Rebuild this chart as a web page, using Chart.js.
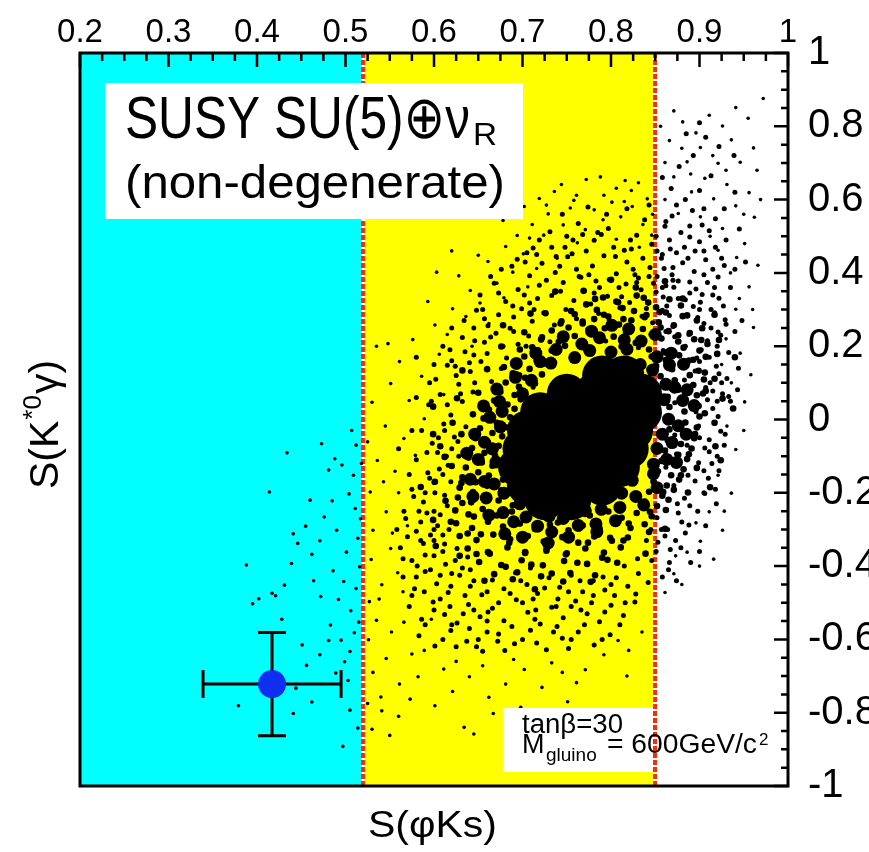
<!DOCTYPE html>
<html>
<head>
<meta charset="utf-8">
<script src="https://cdn.jsdelivr.net/npm/chart.js@4.4.1/dist/chart.umd.min.js"></script>
<style>
  html, body { margin: 0; padding: 0; background: #fff; }
  canvas { display: block; }
</style>
</head>
<body>
<canvas id="chart" width="869" height="852"></canvas>
<script>
// axis ticks
const xTicks = [0.2, 0.3, 0.4, 0.5, 0.6, 0.7, 0.8, 0.9, 1];
const yTicks = [-1, -0.8, -0.6, -0.4, -0.2, 0, 0.2, 0.4, 0.6, 0.8, 1];

// coloured bands along S(phiKs) and the two dotted cuts
const bandEdges = [0.2, 0.52, 0.85, 1];
const bandColours = ['#00ffff', '#ffff00', '#ffffff'];
const cutLines = [0.52, 0.85];

// measured value with errors
const measX = [0.417];
const measY = [-0.722];
const measErrX = [0.078];
const measErrY = [0.141];

// scan points, from the saturated centre outwards
const corePoints = [
  [0.79,0.12],[0.815,0.12],
  [0.75,0.07],[0.78,0.07],[0.81,0.07],[0.835,0.07],
  [0.72,0.02],[0.75,0.02],[0.78,0.02],[0.81,0.02],[0.835,0.02],
  [0.705,-0.03],[0.735,-0.03],[0.765,-0.03],[0.795,-0.03],[0.825,-0.03],
  [0.7,-0.08],[0.73,-0.08],[0.76,-0.08],[0.79,-0.08],[0.82,-0.08],
  [0.695,-0.13],[0.725,-0.13],[0.755,-0.13],[0.785,-0.13],[0.81,-0.13],
  [0.705,-0.18],[0.735,-0.18],[0.765,-0.18],[0.79,-0.18],
  [0.725,-0.22],[0.755,-0.22]
];

const ringPoints = [
  [0.858,-0.04],[0.865,0.001],[0.86,0.054],[0.862,0.096],[0.847,0.135],[0.833,0.15],[0.818,0.192],[0.8,0.184],
  [0.776,0.188],[0.759,0.169],[0.732,0.154],[0.71,0.107],[0.7,0.07],[0.677,0.022],[0.675,-0.02],[0.666,-0.08],
  [0.67,-0.116],[0.668,-0.176],[0.679,-0.201],[0.697,-0.23],[0.704,-0.266],[0.73,-0.264],[0.746,-0.27],
  [0.771,-0.249],[0.789,-0.245],[0.812,-0.201],[0.824,-0.166],[0.848,-0.122],[0.852,-0.079],
  [0.876,-0.017],[0.881,0.052],[0.872,0.088],[0.866,0.149],[0.852,0.171],[0.834,0.214],[0.815,0.217],
  [0.787,0.223],[0.767,0.206],[0.738,0.191],[0.72,0.158],[0.692,0.115],[0.674,0.049],[0.663,0.006],
  [0.657,-0.062],[0.65,-0.109],[0.657,-0.169],[0.659,-0.214],[0.678,-0.254],[0.69,-0.279],[0.717,-0.291],
  [0.733,-0.307],[0.763,-0.289],[0.783,-0.285],[0.81,-0.24],[0.828,-0.21],[0.848,-0.148],[0.863,-0.109],
  [0.869,-0.063],
  [0.885,-0.04],[0.894,0.038],[0.886,0.081],[0.882,0.151],[0.868,0.181],[0.85,0.232],[0.82,0.247],[0.801,0.257],
  [0.778,0.241],[0.746,0.226],[0.715,0.181],[0.693,0.153],[0.671,0.083],[0.656,0.037],[0.646,-0.04],
  [0.637,-0.092],[0.641,-0.163],[0.644,-0.21],[0.662,-0.261],[0.68,-0.312],[0.7,-0.321],[0.729,-0.337],
  [0.752,-0.321],[0.784,-0.306],[0.805,-0.276],[0.837,-0.233],[0.852,-0.186],[0.874,-0.117]
];

const fringePoints = [
  [0.895,-0.04],[0.906,0.017],[0.904,0.071],[0.906,0.128],[0.888,0.161],[0.876,0.23],[0.856,0.251],[0.84,0.285],
  [0.814,0.274],[0.792,0.286],[0.768,0.267],[0.743,0.262],[0.721,0.218],[0.697,0.191],[0.679,0.143],[0.65,0.073],
  [0.644,0.014],[0.631,-0.04],[0.62,-0.127],[0.631,-0.173],[0.632,-0.228],[0.645,-0.265],[0.653,-0.313],
  [0.685,-0.336],[0.703,-0.362],[0.727,-0.358],[0.75,-0.365],[0.774,-0.336],[0.799,-0.323],[0.82,-0.284],
  [0.844,-0.252],[0.859,-0.198],[0.879,-0.152],[0.888,-0.095],
  [0.917,-0.009],[0.926,0.057],[0.917,0.111],[0.92,0.179],[0.902,0.217],[0.881,0.282],[0.855,0.293],[0.837,0.332],
  [0.808,0.32],[0.782,0.329],[0.755,0.296],[0.726,0.29],[0.702,0.238],[0.676,0.199],[0.66,0.137],[0.626,0.058],
  [0.621,-0.009],[0.607,-0.073],[0.612,-0.102],[0.601,-0.17],[0.613,-0.222],[0.619,-0.279],[0.638,-0.311],
  [0.648,-0.367],[0.663,-0.366],[0.681,-0.402],[0.71,-0.396],[0.733,-0.42],[0.762,-0.391],[0.79,-0.377],
  [0.814,-0.33],[0.843,-0.307],[0.862,-0.247],[0.887,-0.199],[0.897,-0.132],[0.918,-0.073],
  [0.938,0.03],[0.94,0.17],[0.922,0.217],[0.917,0.286],[0.881,0.33],[0.861,0.377],[0.828,0.36],[0.8,0.381],
  [0.769,0.351],[0.737,0.349],[0.709,0.289],[0.678,0.257],[0.632,0.134],[0.599,0.035],[0.599,-0.04],
  [0.585,-0.184],[0.599,-0.274],[0.602,-0.345],[0.629,-0.372],[0.657,-0.44],[0.689,-0.436],[0.714,-0.463],
  [0.746,-0.442],[0.777,-0.443],[0.807,-0.391],[0.839,-0.366],[0.861,-0.298],[0.912,-0.185],[0.924,-0.111],
  [0.791,0.333],[0.806,0.322],[0.829,0.338],[0.842,0.319],[0.866,0.328],[0.772,0.314],[0.784,0.299],[0.813,0.304],
  [0.826,0.296],[0.851,0.306],[0.879,0.311],[0.759,0.287],[0.797,0.281],[0.838,0.279],[0.862,0.292],[0.886,0.284],
  [0.744,0.268],[0.768,0.262],[0.781,0.274],[0.809,0.259],[0.823,0.271],[0.854,0.265],[0.871,0.257],[0.897,0.27],
  [0.733,0.243],[0.752,0.251],[0.776,0.238],[0.793,0.249],[0.817,0.236],[0.836,0.247],[0.846,0.232],[0.865,0.241],
  [0.889,0.236],[0.903,0.249],[0.722,0.224],[0.741,0.212],[0.759,0.228],[0.788,0.217],[0.803,0.226],[0.828,0.209],
  [0.857,0.221],[0.876,0.213],[0.894,0.219],[0.909,0.206],[0.711,0.197],[0.733,0.188],[0.748,0.201],[0.772,0.192],
  [0.797,0.184],[0.812,0.199],[0.843,0.191],[0.861,0.183],[0.882,0.196],[0.9,0.188],
  [0.702,0.172],[0.716,0.161],[0.694,0.149],[0.708,0.138],[0.727,0.152],[0.689,0.126],[0.703,0.114],[0.722,0.123],
  [0.681,0.101],[0.696,0.089],[0.714,0.098],[0.675,0.076],[0.691,0.067],[0.668,0.052],[0.683,0.041],[0.698,0.055],
  [0.662,0.027],[0.677,0.016],[0.691,0.029],[0.656,0.003],[0.671,-0.009],[0.686,0.006],[0.652,-0.024],[0.666,-0.037],
  [0.681,-0.021],[0.647,-0.051],[0.661,-0.063],[0.677,-0.046],[0.643,-0.078],[0.657,-0.091],[0.673,-0.072],
  [0.639,-0.104],[0.654,-0.117],[0.669,-0.099],[0.636,-0.131],[0.65,-0.144],[0.666,-0.126],[0.632,-0.158],
  [0.647,-0.171],[0.662,-0.153],[0.678,-0.164],[0.629,-0.186],[0.644,-0.198],[0.66,-0.181],[0.676,-0.193],
  [0.627,-0.213],[0.642,-0.226],[0.657,-0.208],[0.673,-0.221],[0.689,-0.234],[0.694,-0.206],[0.686,-0.181],
  [0.846,0.172],[0.862,0.162],[0.877,0.175],[0.893,0.163],[0.907,0.171],[0.851,0.146],[0.869,0.137],[0.884,0.149],
  [0.899,0.133],[0.856,0.118],[0.872,0.107],[0.889,0.121],[0.905,0.109],[0.861,0.091],[0.876,0.081],[0.893,0.094],
  [0.907,0.078],[0.864,0.062],[0.881,0.053],[0.897,0.066],[0.866,0.034],[0.883,0.022],[0.899,0.037],[0.867,0.004],
  [0.884,-0.008],[0.9,0.008],[0.866,-0.027],[0.882,-0.039],[0.897,-0.022],[0.864,-0.056],[0.879,-0.067],
  [0.894,-0.051],[0.861,-0.085],[0.876,-0.096],[0.891,-0.079],[0.857,-0.113],[0.872,-0.124],[0.886,-0.108],
  [0.853,-0.141],[0.868,-0.152],[0.882,-0.136],[0.848,-0.169],[0.863,-0.18],[0.877,-0.164],[0.843,-0.197],
  [0.858,-0.208],[0.871,-0.192],[0.838,-0.224],[0.852,-0.236],[0.865,-0.219],
  [0.624,-0.248],[0.639,-0.259],[0.655,-0.244],[0.671,-0.262],[0.688,-0.251],[0.703,-0.268],[0.719,-0.255],
  [0.74,-0.281],[0.776,-0.262],[0.797,-0.251],[0.812,-0.268],[0.829,-0.255],[0.846,-0.264],[0.625,-0.283],
  [0.643,-0.296],[0.661,-0.279],[0.678,-0.292],[0.697,-0.284],[0.714,-0.299],[0.731,-0.287],[0.752,-0.302],
  [0.768,-0.289],[0.787,-0.297],[0.806,-0.284],[0.822,-0.296],[0.838,-0.286],[0.629,-0.318],[0.648,-0.329],
  [0.667,-0.314],[0.686,-0.327],[0.706,-0.318],[0.724,-0.333],[0.745,-0.321],[0.763,-0.336],[0.781,-0.319],
  [0.801,-0.331],[0.819,-0.322],[0.638,-0.352],[0.661,-0.362],[0.683,-0.349],[0.703,-0.364],[0.727,-0.354],
  [0.749,-0.368],[0.771,-0.352],[0.792,-0.363],[0.811,-0.349],[0.651,-0.389],[0.676,-0.397],[0.699,-0.384],
  [0.723,-0.398],[0.747,-0.386],[0.773,-0.394],[0.796,-0.383],[0.668,-0.422],[0.694,-0.417],[0.721,-0.428],
  [0.754,-0.419],[0.782,-0.425]
];

const cloudPoints = [
  [0.712,0.468],[0.731,0.512],[0.748,0.47],[0.763,0.535],[0.781,0.489],[0.797,0.521],[0.815,0.462],[0.829,0.503],
  [0.846,0.478],[0.861,0.527],[0.874,0.455],[0.889,0.498],[0.903,0.531],[0.918,0.47],[0.756,0.452],[0.838,0.545],
  [0.676,0.41],[0.694,0.437],[0.708,0.392],[0.722,0.426],[0.737,0.401],[0.751,0.444],[0.766,0.388],[0.779,0.419],
  [0.792,0.447],[0.806,0.398],[0.818,0.43],[0.831,0.386],[0.844,0.415],[0.857,0.44],[0.869,0.395],[0.881,0.428],
  [0.894,0.404],[0.907,0.436],[0.921,0.389],[0.742,0.418],[0.86,0.412],[0.798,0.382],
  [0.652,0.34],[0.668,0.372],[0.681,0.322],[0.695,0.355],[0.708,0.318],[0.719,0.366],[0.733,0.338],[0.746,0.374],
  [0.758,0.325],[0.77,0.351],[0.783,0.378],[0.796,0.336],[0.809,0.36],[0.821,0.319],[0.834,0.354],[0.848,0.372],
  [0.859,0.334],[0.871,0.361],[0.884,0.327],[0.896,0.356],[0.909,0.374],[0.922,0.331],[0.777,0.315],[0.851,0.348],
  [0.876,0.378],[0.829,0.374],[0.903,0.341],
  [0.634,0.27],[0.648,0.298],[0.661,0.256],[0.673,0.286],[0.686,0.249],[0.699,0.302],[0.711,0.268],[0.724,0.291],
  [0.736,0.258],[0.749,0.3],[0.761,0.275],[0.774,0.247],[0.786,0.289],[0.798,0.27],[0.81,0.305],[0.822,0.252],
  [0.835,0.282],[0.847,0.264],[0.858,0.298],[0.87,0.254],[0.881,0.283],[0.893,0.308],[0.905,0.262],[0.917,0.291],
  [0.929,0.272],[0.866,0.284],[0.84,0.303],[0.898,0.278],
  [0.618,0.19],[0.632,0.224],[0.645,0.176],[0.657,0.211],[0.67,0.235],[0.682,0.168],[0.695,0.205],[0.707,0.228],
  [0.718,0.191],[0.731,0.212],[0.766,0.2],[0.794,0.214],[0.831,0.196],[0.846,0.233],[0.859,0.188],[0.872,0.226],
  [0.884,0.2],[0.897,0.168],[0.909,0.215],[0.921,0.239],[0.933,0.183],[0.862,0.24],[0.888,0.232],
  [0.602,0.11],[0.615,0.148],[0.628,0.096],[0.641,0.131],[0.653,0.158],[0.665,0.104],[0.676,0.139],[0.697,0.122],
  [0.712,0.088],[0.856,0.12],[0.87,0.151],[0.883,0.108],[0.895,0.132],[0.907,0.087],[0.919,0.145],[0.931,0.112],
  [0.943,0.081],[0.874,0.09],[0.9,0.158],
  [0.594,0.04],[0.607,0.068],[0.619,0.012],[0.632,0.049],[0.644,0.075],[0.658,0.036],[0.872,0.046],[0.884,0.072],
  [0.896,0.021],[0.909,0.054],[0.921,0.008],[0.933,0.063],[0.915,0.078],
  [0.586,-0.03],[0.598,-0.065],[0.611,-0.012],[0.623,-0.048],[0.636,-0.02],[0.872,-0.042],[0.886,-0.07],
  [0.899,-0.018],[0.911,-0.055],[0.924,-0.032],[0.906,-0.078],
  [0.58,-0.11],[0.593,-0.145],[0.604,-0.09],[0.616,-0.125],[0.628,-0.1],[0.862,-0.13],[0.874,-0.094],
  [0.887,-0.152],[0.899,-0.118],[0.911,-0.088],[0.922,-0.14],
  [0.575,-0.19],[0.588,-0.225],[0.6,-0.172],[0.612,-0.207],[0.871,-0.18],[0.883,-0.215],[0.895,-0.168],
  [0.906,-0.202],[0.889,-0.235],[0.615,-0.235],
  [0.568,-0.27],[0.58,-0.305],[0.592,-0.255],[0.604,-0.29],[0.852,-0.268],[0.864,-0.3],[0.876,-0.255],
  [0.888,-0.288],[0.861,-0.318],[0.61,-0.315],
  [0.562,-0.35],[0.575,-0.385],[0.588,-0.338],[0.6,-0.372],[0.613,-0.395],[0.626,-0.352],[0.638,-0.375],
  [0.851,-0.36],[0.866,-0.39],[0.846,-0.385],[0.853,-0.335],
  [0.565,-0.43],[0.578,-0.462],[0.59,-0.415],[0.603,-0.448],[0.616,-0.472],[0.629,-0.425],[0.641,-0.455],
  [0.654,-0.478],[0.666,-0.438],[0.679,-0.462],[0.692,-0.418],[0.705,-0.45],[0.717,-0.475],[0.73,-0.432],
  [0.742,-0.458],[0.755,-0.425],[0.768,-0.47],[0.78,-0.44],[0.793,-0.465],[0.806,-0.432],[0.819,-0.455],
  [0.831,-0.42],[0.842,-0.445],[0.828,-0.476],[0.632,-0.405],[0.709,-0.405],
  [0.572,-0.51],[0.586,-0.545],[0.599,-0.498],[0.612,-0.532],[0.626,-0.555],[0.639,-0.505],[0.652,-0.538],
  [0.666,-0.515],[0.679,-0.549],[0.693,-0.492],[0.706,-0.526],[0.72,-0.558],[0.733,-0.512],[0.746,-0.541],
  [0.76,-0.495],[0.773,-0.53],[0.787,-0.552],[0.8,-0.507],[0.814,-0.535],[0.827,-0.498],
  [0.583,-0.59],[0.601,-0.618],[0.619,-0.576],[0.637,-0.605],[0.655,-0.632],[0.673,-0.585],[0.691,-0.612],
  [0.709,-0.575],[0.727,-0.628],[0.745,-0.597],[0.763,-0.58],[0.781,-0.615],[0.799,-0.587],
  [0.862,0.54],[0.874,0.585],[0.889,0.528],[0.905,0.575],[0.918,0.548],[0.868,0.63],[0.884,0.6],[0.9,0.625],
  [0.913,0.665],[0.858,0.66],[0.877,0.69],[0.893,0.72],[0.907,0.77],[0.922,0.745],[0.939,0.72],[0.885,0.78],
  [0.9,0.81],[0.94,0.62],[0.928,0.575],[0.945,0.52],[0.93,0.49],[0.94,0.41],[0.952,0.43],[0.928,0.42],
  [0.935,0.36],[0.948,0.27],[0.94,0.24],[0.927,0.31],[0.944,0.14],[0.935,0.05],[0.928,-0.07],[0.918,-0.19],
  [0.907,-0.29],[0.873,-0.33],[0.865,-0.41],[0.89,-0.39],[0.866,0.49],[0.883,0.47],[0.9,0.485],[0.915,0.41],
  [0.858,0.45],[0.87,0.38],[0.913,0.25],[0.92,0.2],[0.902,0.19],[0.925,0.1],[0.915,0.03],[0.9,-0.05],
  [0.59,-0.2],[0.6,-0.25],[0.585,-0.33],[0.596,-0.41],[0.607,-0.49],[0.62,-0.56],[0.64,-0.57],[0.65,-0.6],
  [0.61,-0.6],[0.575,-0.48],[0.565,-0.38],[0.572,-0.15],[0.56,-0.08],[0.575,-0.03],[0.58,0.06],[0.595,0.1],
  [0.6,0.15],[0.62,0.25],[0.61,0.2],[0.58,0.17],
  [0.664,0.39],[0.688,0.418],[0.703,0.43],[0.716,0.45],[0.733,0.47],[0.75,0.5],[0.768,0.505],[0.785,0.51],
  [0.803,0.47],[0.822,0.49],[0.852,0.46],[0.727,0.38],[0.761,0.41],[0.775,0.395],[0.787,0.36],[0.817,0.37],
  [0.825,0.41],[0.843,0.39],[0.852,0.39],[0.702,0.34],[0.713,0.3],[0.69,0.28],[0.655,0.3],[0.645,0.25],
  [0.69,0.24],[0.704,0.2],[0.678,0.2],[0.66,0.18],[0.64,0.155],[0.625,0.12],[0.66,0.14],[0.646,0.1],
  [0.63,0.07],[0.615,0.04],[0.62,-0.08],[0.61,-0.15],[0.6,-0.3],[0.61,-0.36],[0.62,-0.42],[0.635,-0.48],
  [0.6,-0.52],[0.645,-0.52],[0.66,-0.55],[0.7,-0.5],[0.715,-0.52],[0.74,-0.49],[0.755,-0.51],[0.78,-0.48],
  [0.8,-0.45],[0.815,-0.4],[0.83,-0.38],[0.84,-0.33],[0.845,-0.3],[0.77,-0.56],[0.755,-0.6],[0.735,-0.58],
  [0.7,-0.6],[0.68,-0.63],[0.66,-0.58],[0.625,-0.62],[0.59,-0.56],[0.58,-0.43],[0.59,-0.37],[0.6,-0.33],
  [0.585,-0.28],[0.595,-0.16],[0.605,-0.05],[0.597,0.05],[0.62,0.16],[0.905,-0.2],[0.91,-0.16],[0.92,-0.1],
  [0.88,-0.28],[0.875,-0.23],[0.9,0.3],[0.915,0.34],[0.93,0.26],[0.92,0.05],
  [0.705,0.455],[0.719,0.49],[0.738,0.445],[0.757,0.49],[0.772,0.46],[0.789,0.505],[0.805,0.445],[0.823,0.465],
  [0.836,0.44],[0.851,0.5],[0.867,0.465],[0.879,0.51],[0.895,0.46],[0.911,0.515],[0.745,0.56],[0.774,0.58],
  [0.795,0.56],[0.818,0.575],[0.843,0.585],[0.869,0.555],[0.892,0.57],[0.764,0.39],[0.781,0.345],[0.812,0.335],
  [0.827,0.395],[0.862,0.365],[0.889,0.345],[0.905,0.395],[0.917,0.36],[0.743,0.35],[0.717,0.33],[0.689,0.31],
  [0.673,0.345],[0.657,0.275],[0.664,0.225],[0.646,0.215],[0.635,0.185],[0.624,0.145],
  [0.612,-0.03],[0.627,-0.06],[0.614,-0.1],[0.606,-0.135],[0.619,-0.17],[0.601,-0.2],[0.607,-0.26],[0.617,-0.3],
  [0.596,-0.315],[0.612,-0.34],[0.624,-0.385],[0.641,-0.41],[0.607,-0.425],[0.619,-0.455],[0.645,-0.44],
  [0.66,-0.47],[0.673,-0.5],[0.686,-0.475],[0.698,-0.44],[0.712,-0.49],[0.725,-0.46],[0.738,-0.51],[0.752,-0.47],
  [0.765,-0.44],[0.778,-0.5],[0.791,-0.43],[0.804,-0.48],[0.816,-0.5],[0.633,-0.53],[0.618,-0.51],[0.661,-0.525],
  [0.688,-0.565],[0.714,-0.545],[0.739,-0.565],[0.766,-0.52],[0.793,-0.525],[0.589,-0.47],[0.581,-0.4],
  [0.57,-0.32],[0.583,-0.25],[0.577,-0.21],[0.592,-0.09],[0.566,-0.25],[0.558,-0.3],[0.648,-0.62],[0.672,-0.605],
  [0.716,-0.61],[0.752,-0.625],[0.79,-0.6],[0.81,-0.56],
  [0.858,0.36],[0.863,0.31],[0.876,0.33],[0.889,0.375],[0.901,0.32],[0.913,0.3],[0.924,0.23],[0.911,0.17],
  [0.922,0.125],[0.912,0.1],[0.926,0.07],[0.917,-0.01],[0.929,-0.04],[0.914,-0.12],[0.905,-0.14],[0.919,-0.23],
  [0.898,-0.25],[0.884,-0.31],[0.879,-0.35],[0.867,-0.355],[0.857,-0.3],[0.874,-0.44],[0.858,-0.43],[0.9,-0.36],
  [0.87,0.415],[0.887,0.44],[0.925,0.44],[0.905,0.46]
];

const sparsePoints = [
  // left of the first cut
  [0.473,-0.066],[0.434,-0.091],[0.414,-0.198],[0.388,-0.397],[0.46,-0.22],[0.485,-0.222],[0.488,-0.107],
  [0.496,-0.124],[0.481,-0.138],[0.509,-0.152],[0.504,-0.203],[0.511,-0.243],[0.476,-0.266],[0.455,-0.291],
  [0.441,-0.312],[0.446,-0.338],[0.471,-0.331],[0.49,-0.302],[0.501,-0.362],[0.514,-0.324],[0.462,-0.368],
  [0.439,-0.393],[0.486,-0.413],[0.498,-0.442],[0.512,-0.461],[0.431,-0.452],[0.417,-0.474],[0.402,-0.489],
  [0.395,-0.503],[0.421,-0.481],[0.472,-0.483],[0.492,-0.491],[0.506,-0.522],[0.515,-0.553],[0.483,-0.561],
  [0.495,-0.602],[0.505,-0.633],[0.471,-0.642],[0.456,-0.671],[0.489,-0.692],[0.503,-0.712],[0.499,-0.661],
  [0.444,-0.733],[0.462,-0.771],[0.505,-0.793],[0.514,-0.842],[0.497,-0.892],[0.379,-0.781],[0.441,-0.802],
  [0.51,-0.582],[0.516,-0.402],[0.517,-0.271],[0.451,-0.615],[0.481,-0.603],[0.512,-0.07],[0.507,-0.03],
  [0.518,-0.12],[0.464,-0.44],[0.428,-0.545],
  // yellow band, outer parts
  [0.535,0.2],[0.548,0.207],[0.561,0.158],[0.53,0.047],[0.551,0.098],[0.572,0.052],[0.576,0.218],[0.593,0.322],
  [0.601,0.258],[0.586,0.118],[0.606,0.178],[0.611,0.068],[0.589,0.002],[0.545,-0.018],[0.566,-0.052],
  [0.525,-0.061],[0.536,-0.112],[0.556,-0.141],[0.579,-0.098],[0.62,0.46],[0.65,0.448],[0.628,0.392],
  [0.621,0.302],[0.641,0.352],[0.615,0.232],[0.603,0.402],
  [0.53,-0.845],[0.55,-0.862],[0.56,-0.81],[0.573,-0.763],[0.54,-0.757],[0.634,-0.84],[0.645,-0.858],
  [0.698,-0.785],[0.751,-0.77],[0.601,-0.781],[0.582,-0.702],[0.531,-0.69],[0.546,-0.652],[0.561,-0.722],
  [0.621,-0.742],[0.662,-0.758],[0.681,-0.722],[0.722,-0.731],[0.771,-0.683],[0.792,-0.642],[0.808,-0.603],
  [0.526,-0.601],[0.535,-0.548],[0.527,-0.497],[0.541,-0.451],[0.529,-0.382],[0.531,-0.302],[0.546,-0.252],
  [0.528,-0.198],[0.551,-0.352],[0.559,-0.418],[0.566,-0.553],[0.589,-0.63],[0.611,-0.681],[0.64,-0.702],
  [0.702,-0.682],[0.733,-0.664],[0.761,-0.718],[0.667,-0.802],[0.541,-0.795],[0.525,-0.775],[0.552,-0.58],
  [0.538,-0.49],[0.553,-0.31],[0.565,-0.47],[0.575,-0.64],[0.597,-0.545],[0.625,-0.66],[0.655,-0.672],
  [0.69,-0.655],[0.745,-0.69],[0.82,-0.63],[0.835,-0.58],[0.818,-0.7],[0.56,-0.2],[0.57,-0.29],[0.543,-0.17],
  [0.678,0.543],[0.691,0.556],[0.702,0.581],[0.719,0.603],[0.736,0.622],[0.744,0.641],[0.761,0.612],
  [0.772,0.655],[0.788,0.662],[0.806,0.631],[0.816,0.652],[0.831,0.646],[0.841,0.602],[0.824,0.581],
  [0.801,0.593],[0.781,0.572],[0.754,0.577],[0.729,0.561],[0.711,0.532],[0.694,0.502],[0.681,0.472],
  [0.661,0.431],[0.701,0.452],[0.724,0.503],[0.746,0.531],[0.771,0.518],[0.791,0.545],[0.811,0.553],
  [0.836,0.532],[0.846,0.503],[0.832,0.47],[0.806,0.492],[0.762,0.482],[0.739,0.44],[0.716,0.412],
  [0.689,0.402],[0.671,0.372],[0.652,0.318],[0.679,0.332],[0.706,0.362],[0.636,0.281],[0.662,0.262],
  [0.643,0.2],[0.758,0.598],[0.792,0.612],[0.815,0.595],[0.708,0.495],[0.727,0.585],[0.823,0.625],[0.847,0.56],
  // right of the second cut
  [0.972,0.876],[0.955,0.822],[0.941,0.851],[0.926,0.801],[0.911,0.83],[0.896,0.782],[0.881,0.812],
  [0.866,0.761],[0.901,0.742],[0.936,0.763],[0.961,0.741],[0.946,0.702],[0.921,0.699],[0.886,0.703],
  [0.871,0.662],[0.906,0.658],[0.931,0.641],[0.956,0.619],[0.962,0.552],[0.941,0.583],[0.916,0.602],
  [0.891,0.621],[0.861,0.6],[0.876,0.562],[0.901,0.553],[0.926,0.521],[0.951,0.48],[0.966,0.421],
  [0.942,0.442],[0.921,0.462],[0.956,0.362],[0.941,0.301],[0.961,0.251],[0.946,0.181],[0.936,0.1],
  [0.951,0.048],[0.931,-0.018],[0.941,-0.082],[0.921,-0.152],[0.936,-0.201],[0.911,-0.252],[0.926,-0.302],
  [0.901,-0.332],[0.916,-0.381],[0.886,-0.362],[0.873,-0.372],[0.861,-0.472],[0.871,-0.421],[0.896,-0.282],
  [0.958,0.122],[0.969,0.6],[0.965,0.68],[0.861,0.701],[0.871,0.842],[0.856,0.8],[0.88,0.74],[0.915,0.72],
  [0.93,0.68],[0.95,0.56],[0.89,0.67],[0.912,0.5],[0.935,0.4],[0.96,0.3],[0.93,0.22],[0.95,-0.03],
  [0.928,-0.25],[0.9,-0.4],[0.88,-0.45],[0.945,0.33],[0.925,0.15]
];

const FONT = '"Liberation Sans", "DejaVu Sans", Arial, sans-serif';
const toXY = arr => arr.map(p => ({ x: p[0], y: p[1] }));

// draw text squeezed/stretched to a given width
function fitText(ctx, text, x, y, size, width) {
  ctx.font = size + 'px ' + FONT;
  const w = ctx.measureText(text).width;
  ctx.save();
  ctx.translate(x, y);
  if (width) ctx.scale(width / w, 1);
  ctx.fillText(text, 0, 0);
  ctx.restore();
}

const backdrop = {
  id: 'backdrop',
  beforeDraw(chart) {
    const { ctx, chartArea: a } = chart;
    const xs = chart.scales.x;
    ctx.save();
    ctx.fillStyle = '#fff';
    ctx.fillRect(0, 0, chart.width, chart.height);
    for (let i = 0; i < bandColours.length; i++) {
      const x0 = xs.getPixelForValue(bandEdges[i]);
      const x1 = xs.getPixelForValue(bandEdges[i + 1]);
      ctx.fillStyle = bandColours[i];
      ctx.fillRect(x0, a.top, x1 - x0, a.bottom - a.top);
    }
    ctx.restore();
  },
  beforeDatasetsDraw(chart) {
    const { ctx, chartArea: a } = chart;
    const xs = chart.scales.x;
    ctx.save();
    ctx.lineWidth = 4;
    cutLines.forEach(v => {
      const px = Math.round(xs.getPixelForValue(v));
      ctx.setLineDash([]);
      ctx.strokeStyle = '#ffffff';
      ctx.beginPath(); ctx.moveTo(px, a.top); ctx.lineTo(px, a.bottom); ctx.stroke();
      ctx.setLineDash([5, 2]);
      ctx.strokeStyle = '#ff2a00';
      ctx.beginPath(); ctx.moveTo(px, a.top); ctx.lineTo(px, a.bottom); ctx.stroke();
    });
    ctx.restore();
  },
  // error bars go under the blue marker (dataset 0)
  beforeDatasetDraw(chart, args) {
    if (args.index !== 0) return;
    const { ctx } = chart;
    const xs = chart.scales.x, ys = chart.scales.y;
    ctx.save();
    ctx.strokeStyle = '#000';
    ctx.lineWidth = 3;
    measX.forEach((mx, i) => {
      const cx = xs.getPixelForValue(mx), cy = ys.getPixelForValue(measY[i]);
      const xl = xs.getPixelForValue(mx - measErrX[i]), xr = xs.getPixelForValue(mx + measErrX[i]);
      const yt = ys.getPixelForValue(measY[i] + measErrY[i]), yb = ys.getPixelForValue(measY[i] - measErrY[i]);
      const cap = 14;
      ctx.beginPath();
      ctx.moveTo(xl, cy); ctx.lineTo(xr, cy);
      ctx.moveTo(cx, yt); ctx.lineTo(cx, yb);
      ctx.moveTo(xl, cy - cap); ctx.lineTo(xl, cy + cap);
      ctx.moveTo(xr, cy - cap); ctx.lineTo(xr, cy + cap);
      ctx.moveTo(cx - cap, yt); ctx.lineTo(cx + cap, yt);
      ctx.moveTo(cx - cap, yb); ctx.lineTo(cx + cap, yb);
      ctx.stroke();
    });
    ctx.restore();
  }
};

const labels = {
  id: 'labels',
  afterDatasetsDraw(chart) {
    const { ctx } = chart;
    ctx.save();
    ctx.fillStyle = '#fff';
    ctx.fillRect(105, 83, 418, 136);
    ctx.fillRect(503, 708, 150, 64);
    ctx.fillStyle = '#000';
    ctx.textBaseline = 'alphabetic';
    ctx.textAlign = 'left';
    fitText(ctx, 'SUSY SU(5)\u2295\u03bd', 125, 138, 60, 345);
    fitText(ctx, 'R', 473, 145, 31, 24);
    fitText(ctx, '(non-degenerate)', 125, 198, 46, 380);
    fitText(ctx, 'tan\u03b2=30', 522, 733, 27, 101);
    fitText(ctx, 'M', 522, 753, 27);
    fitText(ctx, 'gluino', 546, 761, 19);
    fitText(ctx, '= 600GeV/c', 607, 753, 27, 150);
    fitText(ctx, '2', 759, 745, 17);
    ctx.restore();
  },
  afterDraw(chart) {
    const { ctx, chartArea: a } = chart;
    const xs = chart.scales.x, ys = chart.scales.y;
    ctx.save();
    ctx.strokeStyle = '#000';
    // inward ticks on top and right
    ctx.lineWidth = 2.5;
    ctx.beginPath();
    for (let i = 0; i <= 32; i++) {
      const px = xs.getPixelForValue(0.2 + i * 0.025);
      const len = i % 4 === 0 ? 14 : 8;
      ctx.moveTo(px, a.top); ctx.lineTo(px, a.top + len);
    }
    for (let i = 0; i <= 40; i++) {
      const py = ys.getPixelForValue(-1 + i * 0.05);
      const len = i % 4 === 0 ? 14 : 7;
      ctx.moveTo(a.right, py); ctx.lineTo(a.right - len, py);
    }
    ctx.stroke();
    // frame
    ctx.lineWidth = 3;
    ctx.strokeRect(a.left, a.top, a.right - a.left, a.bottom - a.top);

    // axis titles
    ctx.fillStyle = '#000';
    ctx.textBaseline = 'alphabetic';
    ctx.textAlign = 'left';
    fitText(ctx, 'S(\u03c6Ks)', 368, 837, 37, 129);

    ctx.translate(58, 489);
    ctx.rotate(-Math.PI / 2);
    ctx.font = '41px ' + FONT;
    ctx.fillText('S(K', 0, 0);
    let off = ctx.measureText('S(K').width;
    ctx.font = '26px ' + FONT;
    ctx.fillText('*0', off + 1, -17);
    off += ctx.measureText('*0').width + 2;
    ctx.font = '41px ' + FONT;
    ctx.fillText('\u03b3)', off, 0);
    ctx.restore();
  }
};

const dot = (data, r) => ({
  data: toXY(data),
  backgroundColor: '#000',
  borderWidth: 0,
  pointRadius: r,
  pointHoverRadius: r
});

new Chart(document.getElementById('chart'), {
  type: 'scatter',
  data: {
    datasets: [
      {
        data: measX.map((v, i) => ({ x: v, y: measY[i] })),
        backgroundColor: '#0f2ff0',
        borderWidth: 0,
        pointRadius: 14,
        pointHoverRadius: 14
      },
      dot(sparsePoints, 1.8),
      dot(cloudPoints, 2.5),
      dot(fringePoints, 3.3),
      dot(ringPoints, 6.5),
      dot(corePoints, 20)
    ]
  },
  options: {
    responsive: false,
    animation: false,
    devicePixelRatio: 1,
    events: [],
    layout: { padding: { left: 80, right: 0, top: 0, bottom: 66 } },
    plugins: { legend: { display: false }, tooltip: { enabled: false } },
    scales: {
      x: {
        type: 'linear',
        position: 'top',
        min: 0.2,
        max: 1,
        grid: { display: false, drawTicks: false },
        border: { display: false },
        afterBuildTicks: s => { s.ticks = xTicks.map(v => ({ value: v })); },
        afterFit: s => { s.height = 53; },
        ticks: {
          autoSkip: false,
          maxRotation: 0,
          padding: 0,
          color: '#000',
          font: { family: FONT, size: 33 },
          callback: v => String(v)
        }
      },
      y: {
        type: 'linear',
        position: 'right',
        min: -1,
        max: 1,
        grid: { display: false, drawTicks: false },
        border: { display: false },
        afterBuildTicks: s => { s.ticks = yTicks.map(v => ({ value: v })); },
        afterFit: s => { s.width = 81; },
        ticks: {
          autoSkip: false,
          padding: 20,
          color: '#000',
          font: { family: FONT, size: 40 },
          callback: v => String(v)
        }
      }
    }
  },
  plugins: [backdrop, labels]
});
</script>
</body>
</html>
